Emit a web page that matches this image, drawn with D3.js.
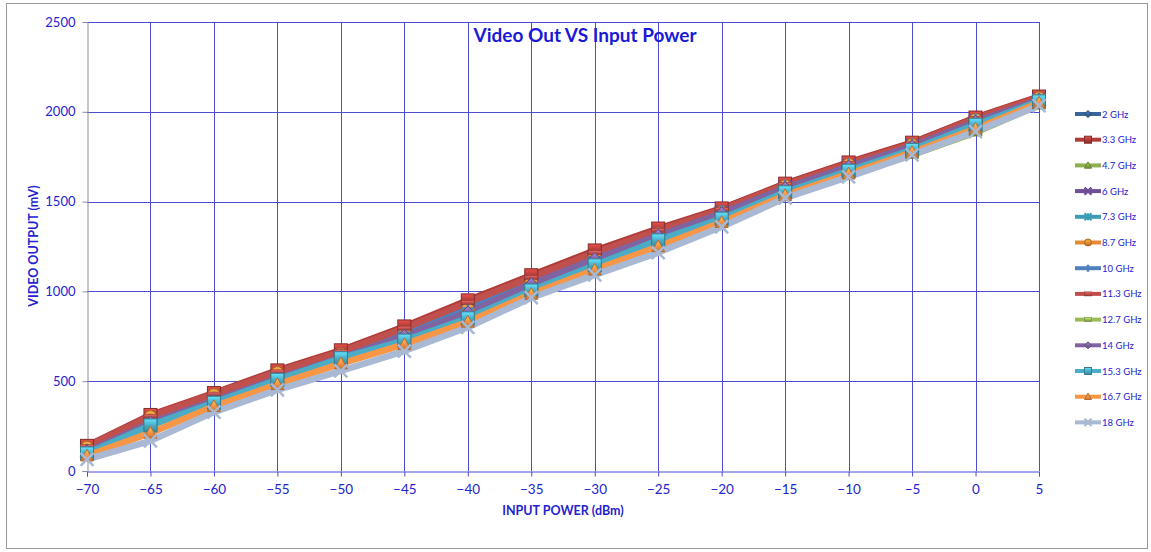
<!DOCTYPE html>
<html>
<head>
<meta charset="utf-8">
<script src="https://cdn.jsdelivr.net/npm/d3@7"></script>
<style>
  body { margin: 0; background: #fff; }
  svg text { font-family: Lato, "Open Sans", sans-serif; }
</style>
</head>
<body>
<div id="chart"></div>
<script>
// input power (dBm)
const inputPower = [-70, -65, -60, -55, -50, -45, -40, -35, -30, -25, -20, -15, -10, -5, 0, 5];
const yTicks = [0, 500, 1000, 1500, 2000, 2500];

const seriesNames = ["2 GHz", "3.3 GHz", "4.7 GHz", "6 GHz", "7.3 GHz", "8.7 GHz", "10 GHz",
    "11.3 GHz", "12.7 GHz", "14 GHz", "15.3 GHz", "16.7 GHz", "18 GHz"];
const seriesColors = ["#3a659b", "#b03c38", "#8db04c", "#6e4f96", "#3b9db5", "#e58a33", "#4f81bd",
    "#c0504d", "#9bbb59", "#8064a2", "#4bacc6", "#f79646", "#a9b8d3"];
const seriesMarkers = ["diamond", "square", "triangle", "x", "star", "circle", "plus",
    "dash", "dash", "diamond", "square", "triangle", "x"];

// video output (mV) per frequency
const v2 = [125, 292, 415, 540, 660, 790, 930, 1070, 1210, 1338, 1458, 1598, 1715, 1826, 1965, 2078];
const v33 = [140, 312, 434, 560, 672, 805, 950, 1090, 1228, 1350, 1462, 1600, 1718, 1828, 1968, 2085];
const v47 = [105, 262, 385, 510, 625, 748, 875, 1030, 1170, 1300, 1420, 1550, 1660, 1770, 1895, 2045];
const v6 = [110, 270, 395, 520, 635, 760, 890, 1048, 1188, 1318, 1440, 1580, 1700, 1812, 1950, 2068];
const v73 = [100, 256, 384, 512, 630, 730, 855, 1010, 1150, 1288, 1410, 1555, 1675, 1790, 1930, 2060];
const v87 = [130, 300, 422, 545, 648, 770, 900, 1050, 1190, 1320, 1440, 1585, 1705, 1815, 1955, 2075];
const v10 = [115, 282, 405, 528, 645, 770, 905, 1045, 1190, 1320, 1445, 1585, 1705, 1815, 1955, 2070];
const v113 = [135, 305, 428, 552, 664, 795, 938, 1078, 1215, 1340, 1455, 1594, 1712, 1822, 1962, 2080];
const v127 = [100, 258, 380, 505, 620, 742, 868, 1020, 1160, 1290, 1410, 1540, 1645, 1760, 1885, 2038];
const v14 = [108, 268, 390, 515, 630, 752, 882, 1040, 1180, 1310, 1435, 1575, 1695, 1808, 1945, 2065];
const v153 = [98, 254, 380, 508, 628, 726, 850, 1005, 1145, 1284, 1405, 1552, 1672, 1788, 1928, 2058];
const v167 = [85, 212, 360, 482, 598, 705, 830, 985, 1120, 1250, 1385, 1535, 1655, 1775, 1905, 2050];
const v18 = [65, 168, 328, 452, 558, 668, 800, 965, 1092, 1216, 1360, 1520, 1638, 1760, 1890, 2035];

const seriesValues = [v2, v33, v47, v6, v73, v87, v10, v113, v127, v14, v153, v167, v18];

const width = 1151, height = 552;
const margin = { left: 87, right: 112, top: 22, bottom: 81 };
const blue = "#2323cf";
const gridColor = "#4b4bd3";

const svg = d3.select("#chart").append("svg")
    .attr("width", width)
    .attr("height", height);

// outer frame
svg.append("rect")
    .attr("x", 6.5).attr("y", 3.5)
    .attr("width", 1141).attr("height", 545)
    .attr("fill", "#fff")
    .attr("stroke", "#9a9a9a");

const x = d3.scaleLinear().domain([-70, 5]).range([margin.left, width - margin.right]);
const y = d3.scaleLinear().domain([0, 2500]).range([height - margin.bottom, margin.top]);

// gradients for glossy markers
const defs = svg.append("defs");
seriesColors.forEach((c, i) => {
    const g = defs.append("linearGradient")
        .attr("id", "grad" + i)
        .attr("x1", 0).attr("y1", 0).attr("x2", 0).attr("y2", 1);
    g.append("stop").attr("offset", "0%").attr("stop-color", d3.color(c).brighter(0.8));
    g.append("stop").attr("offset", "50%").attr("stop-color", c);
    g.append("stop").attr("offset", "100%").attr("stop-color", d3.color(c).darker(0.7));
});

// grid
svg.append("g")
    .selectAll("line")
    .data(yTicks.slice(1))
    .join("line")
    .attr("x1", margin.left).attr("x2", width - margin.right)
    .attr("y1", d => Math.round(y(d)) + 0.5).attr("y2", d => Math.round(y(d)) + 0.5)
    .attr("stroke", gridColor);

svg.append("g")
    .selectAll("line")
    .data(inputPower.slice(1))
    .join("line")
    .attr("x1", d => Math.round(x(d)) + 0.5).attr("x2", d => Math.round(x(d)) + 0.5)
    .attr("y1", margin.top).attr("y2", height - margin.bottom)
    .attr("stroke", gridColor);

// axes
const xAxis = svg.append("g")
    .attr("transform", `translate(0,${Math.round(y(0)) + 0.5})`)
    .call(d3.axisBottom(x).tickValues(inputPower).tickSize(5).tickPadding(8));
xAxis.select(".domain").attr("stroke", gridColor);
xAxis.selectAll(".tick line").attr("stroke", gridColor);
xAxis.selectAll("text").attr("fill", blue).style("font-size", "13.5px");

const yAxis = svg.append("g")
    .attr("transform", `translate(${Math.round(x(-70)) + 0.5},0)`)
    .call(d3.axisLeft(y).tickValues(yTicks).tickFormat(d3.format("d")).tickSize(5).tickPadding(7));
yAxis.select(".domain").attr("stroke", "#8d8d9a");
yAxis.selectAll(".tick line").attr("stroke", "#8d8d9a");
yAxis.selectAll("text").attr("fill", blue).style("font-size", "13px");

// titles
svg.append("text")
    .attr("x", 585).attr("y", 42)
    .attr("text-anchor", "middle")
    .attr("fill", "#1a1ad6")
    .style("font-size", "19px").style("font-weight", "bold")
    .text("Video Out VS Input Power");

svg.append("text")
    .attr("x", 563).attr("y", 515)
    .attr("text-anchor", "middle")
    .attr("fill", blue)
    .style("font-size", "12.5px").style("font-weight", "bold")
    .text("INPUT POWER (dBm)");

svg.append("text")
    .attr("transform", "translate(38,246) rotate(-90)")
    .attr("text-anchor", "middle")
    .attr("fill", blue)
    .style("font-size", "12.5px").style("font-weight", "bold")
    .text("VIDEO OUTPUT (mV)");

// lines
const line = d3.line()
    .x((d, i) => x(inputPower[i]))
    .y(d => y(d));

svg.append("g")
    .selectAll("path")
    .data(seriesValues)
    .join("path")
    .attr("d", d => line(d))
    .attr("fill", "none")
    .attr("stroke", (d, i) => seriesColors[i])
    .attr("stroke-width", 6.5)
    .attr("stroke-linejoin", "round");

// marker shapes
function drawMarker(g, type, i, size) {
    const c = seriesColors[i];
    const dark = d3.color(c).darker(0.9);
    const fill = `url(#grad${i})`;
    const s = size / 2;
    if (type === "diamond") {
        g.append("path").attr("d", `M0,${-s}L${s},0L0,${s}L${-s},0Z`).attr("fill", fill).attr("stroke", dark);
    } else if (type === "square") {
        g.append("rect").attr("x", -s).attr("y", -s).attr("width", size).attr("height", size)
            .attr("fill", fill).attr("stroke", dark);
    } else if (type === "triangle") {
        g.append("path").attr("d", `M0,${-s}L${s},${s * 0.8}L${-s},${s * 0.8}Z`).attr("fill", fill).attr("stroke", dark);
    } else if (type === "circle") {
        g.append("circle").attr("r", s).attr("fill", fill).attr("stroke", dark);
    } else if (type === "x") {
        g.append("path").attr("d", `M${-s},${-s}L${s},${s}M${-s},${s}L${s},${-s}`)
            .attr("stroke", c).attr("stroke-width", 2.5);
    } else if (type === "star") {
        g.append("path").attr("d", `M${-s},${-s}L${s},${s}M${-s},${s}L${s},${-s}M0,${-s}L0,${s}`)
            .attr("stroke", c).attr("stroke-width", 2);
    } else if (type === "plus") {
        g.append("path").attr("d", `M${-s},0L${s},0M0,${-s}L0,${s}`)
            .attr("stroke", c).attr("stroke-width", 2.5);
    } else if (type === "dash") {
        g.append("rect").attr("x", -s).attr("y", -2).attr("width", size).attr("height", 4)
            .attr("fill", fill).attr("stroke", dark).attr("stroke-width", 0.6);
    }
}

// markers on top of all lines
seriesValues.forEach((vals, i) => {
    vals.forEach((v, j) => {
        const g = svg.append("g").attr("transform", `translate(${x(inputPower[j])},${y(v)})`);
        drawMarker(g, seriesMarkers[i], i, 13);
    });
});

// legend
const legend = svg.append("g");
seriesNames.forEach((name, i) => {
    const ly = 114 + i * 25.7;
    const item = legend.append("g").attr("transform", `translate(1075,${ly})`);
    item.append("line")
        .attr("x1", 0).attr("x2", 26).attr("y1", 0).attr("y2", 0)
        .attr("stroke", seriesColors[i]).attr("stroke-width", 4);
    const mg = item.append("g").attr("transform", "translate(13,0)");
    drawMarker(mg, seriesMarkers[i], i, 7);
    item.append("text")
        .attr("x", 27).attr("y", 3.5)
        .attr("fill", blue)
        .style("font-size", "9.5px")
        .text(name);
});
</script>
</body>
</html>
